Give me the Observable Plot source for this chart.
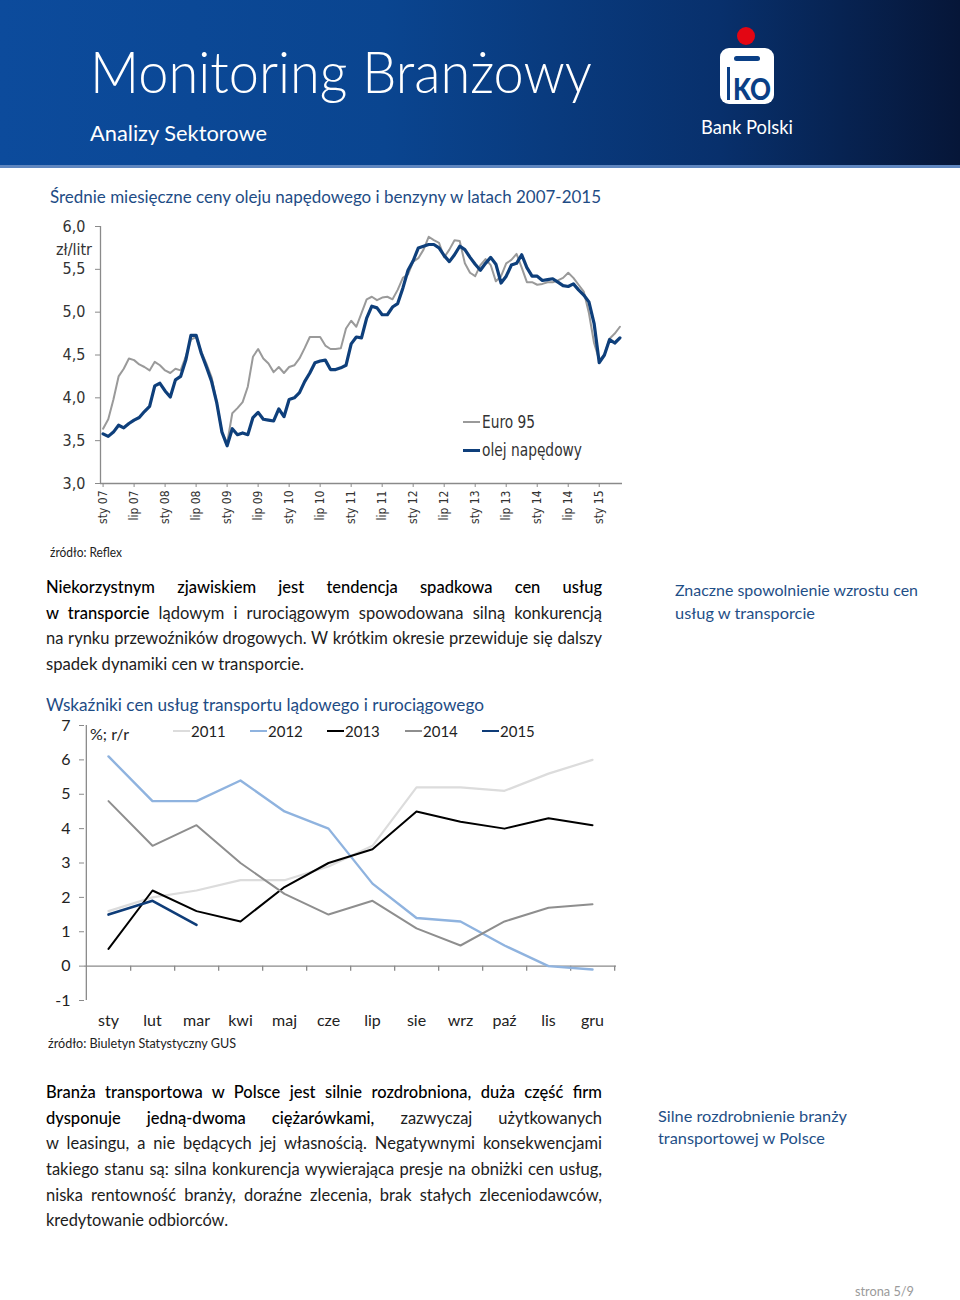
<!DOCTYPE html>
<html><head><meta charset="utf-8">
<script src="https://cdn.jsdelivr.net/npm/d3@7"></script>
<script src="https://cdn.jsdelivr.net/npm/@observablehq/plot@0.6"></script>
<style>
body{margin:0;background:#fff;}
#page{position:relative;width:960px;height:1300px;overflow:hidden;font-family:Lato,"Open Sans",sans-serif;color:#1a1a1a;}
.abs{position:absolute;white-space:nowrap;}
.fit{transform-origin:0 50%;display:inline-block;}
.ttl{color:#1e4c85;font-size:17px;line-height:20px;}
.note{color:#1f4f87;font-size:16px;}
.src{font-size:12.5px;line-height:16px;color:#222;}
.para{position:absolute;left:46px;width:556px;font-size:16.5px;color:#1c1c1c;}
.para div{height:25.7px;line-height:25.7px;white-space:nowrap;text-align:justify;text-align-last:justify;}
.para div.last{text-align:left;text-align-last:left;}
.para b{font-weight:500;color:#000;}
.narrow{font-family:"Liberation Sans Narrow","DejaVu Sans Condensed","Liberation Sans",sans-serif;}
.sw{position:absolute;height:0;}
</style>
</head><body><div id="page">

<svg class="abs" style="left:0;top:0" width="960" height="170">
  <defs><linearGradient id="hg" x1="0" x2="1" y1="0" y2="0">
    <stop offset="0" stop-color="#0c4b9c"/><stop offset="0.4" stop-color="#0a4590"/>
    <stop offset="0.75" stop-color="#08306c"/><stop offset="1" stop-color="#061638"/></linearGradient></defs>
  <rect x="0" y="0" width="960" height="166" fill="url(#hg)"/>
  <rect x="0" y="165" width="960" height="3" fill="#5f86bf"/>
  <text x="90" y="93" fill="#fff" font-family="Lato" font-weight="300" font-size="58" textLength="502" lengthAdjust="spacingAndGlyphs">Monitoring Branżowy</text>
  <text x="90" y="141" fill="#fff" font-family="Lato" font-weight="400" font-size="22" textLength="177" lengthAdjust="spacingAndGlyphs">Analizy Sektorowe</text>
  <circle cx="746" cy="36" r="9" fill="#e30613"/>
  <rect x="720" y="48" width="54" height="56" rx="9" fill="#fff"/>
  <rect x="734" y="56" width="26" height="5" rx="2.5" fill="#0a3f86"/>
  <rect x="727" y="67" width="3" height="33" fill="#0a3f86"/>
  <text x="752" y="100" fill="#0a3f86" font-family="Lato" font-weight="900" font-size="30" text-anchor="middle" textLength="38" lengthAdjust="spacingAndGlyphs">KO</text>
  <text x="701" y="134" fill="#fff" font-family="Lato" font-size="19" textLength="92" lengthAdjust="spacingAndGlyphs">Bank Polski</text>
</svg>

<div class="abs ttl" style="left:50px;top:187px"><span class="fit" data-w="551">Średnie miesięczne ceny oleju napędowego i benzyny w latach 2007-2015</span></div>
<div id="c1" class="abs" style="left:0;top:210px"></div>
<div class="abs narrow" style="left:56px;top:240px;font-size:16px;line-height:20px;color:#333"><span class="fit" data-w="36">zł/litr</span></div>
<div class="sw" style="left:463px;top:421px;width:17px;border-top:2px solid #9a9a9a"></div>
<div class="abs narrow" style="left:482px;top:412px;font-size:17px;line-height:20px;color:#333"><span class="fit" data-w="53">Euro 95</span></div>
<div class="sw" style="left:463px;top:449px;width:17px;border-top:3px solid #0e3f7b"></div>
<div class="abs narrow" style="left:482px;top:440px;font-size:17px;line-height:20px;color:#333"><span class="fit" data-w="100">olej napędowy</span></div>
<div class="abs src" style="left:50px;top:545px"><span class="fit" data-w="72">źródło: Reflex</span></div>

<div class="para" style="top:575px">
<div><b>Niekorzystnym zjawiskiem jest tendencja spadkowa cen usług</b></div>
<div><b>w transporcie</b> lądowym i rurociągowym spowodowana silną konkurencją</div>
<div>na rynku przewoźników drogowych. W krótkim okresie przewiduje się dalszy</div>
<div class="last"><span class="fit" data-w="258">spadek dynamiki cen w transporcie.</span></div>
</div>
<div class="abs note" style="left:675px;top:578px;line-height:23px">
<div><span class="fit" data-w="243">Znaczne spowolnienie wzrostu cen</span></div>
<div><span class="fit" data-w="140">usług w transporcie</span></div>
</div>

<div class="abs ttl" style="left:46px;top:695px"><span class="fit" data-w="438">Wskaźniki cen usług transportu lądowego i rurociągowego</span></div>
<div id="c2" class="abs" style="left:0;top:715px"></div>
<div class="abs" style="left:90px;top:724px;font-size:16px;line-height:20px;color:#222"><span class="fit" data-w="39">%; r/r</span></div>
<div id="leg2"></div>
<div class="abs src" style="left:48px;top:1036px"><span class="fit" data-w="188">źródło: Biuletyn Statystyczny GUS</span></div>

<div class="para" style="top:1080px">
<div><b>Branża transportowa w Polsce jest silnie rozdrobniona, duża część firm</b></div>
<div><b>dysponuje jedną-dwoma ciężarówkami,</b> zazwyczaj użytkowanych</div>
<div>w leasingu, a nie będących jej własnością. Negatywnymi konsekwencjami</div>
<div>takiego stanu są: silna konkurencja wywierająca presje na obniżki cen usług,</div>
<div>niska rentowność branży, doraźne zlecenia, brak stałych zleceniodawców,</div>
<div class="last"><span class="fit" data-w="182">kredytowanie odbiorców.</span></div>
</div>
<div class="abs note" style="left:658px;top:1105px;line-height:22px">
<div><span class="fit" data-w="189">Silne rozdrobnienie branży</span></div>
<div><span class="fit" data-w="167">transportowej w Polsce</span></div>
</div>
<div class="abs" style="left:855px;top:1282px;font-size:13px;line-height:18px;color:#9a9a9a"><span class="fit" data-w="59">strona 5/9</span></div>

</div>
<script>
// ---------- Chart 1 data: monthly average prices, Jan 2007 – May 2015 (zł/litr)
const euro95 = [3.64,3.75,3.98,4.25,4.34,4.46,4.44,4.39,4.36,4.32,
 4.42,4.38,4.32,4.29,4.34,4.32,4.48,4.68,4.71,4.54,
 4.40,4.24,3.94,3.60,3.47,3.82,3.88,3.95,4.13,4.48,
 4.57,4.46,4.40,4.30,4.36,4.29,4.36,4.38,4.46,4.58,
 4.71,4.71,4.71,4.61,4.57,4.57,4.58,4.81,4.90,4.83,
 4.99,5.15,5.18,5.14,5.17,5.18,5.15,5.26,5.40,5.44,
 5.59,5.63,5.73,5.88,5.84,5.81,5.64,5.73,5.84,5.83,
 5.57,5.46,5.42,5.55,5.62,5.55,5.36,5.42,5.57,5.61,
 5.68,5.52,5.35,5.35,5.32,5.33,5.35,5.35,5.37,5.40,
 5.46,5.40,5.32,5.24,4.99,4.64,4.44,4.50,4.69,4.75,
 4.83];
const diesel = [3.58,3.55,3.60,3.68,3.65,3.70,3.74,3.77,3.84,3.90,
 4.14,4.17,4.08,4.01,4.21,4.25,4.44,4.73,4.73,4.52,
 4.36,4.19,3.94,3.60,3.44,3.64,3.57,3.59,3.57,3.77,
 3.83,3.75,3.74,3.73,3.87,3.78,3.98,4.00,4.06,4.19,
 4.29,4.41,4.43,4.44,4.33,4.33,4.35,4.38,4.63,4.71,
 4.70,4.93,5.07,5.05,4.97,4.97,5.06,5.10,5.28,5.49,
 5.60,5.75,5.77,5.79,5.79,5.75,5.66,5.59,5.67,5.77,
 5.73,5.64,5.56,5.49,5.57,5.64,5.56,5.34,5.42,5.55,
 5.57,5.67,5.52,5.42,5.42,5.37,5.38,5.39,5.35,5.31,
 5.30,5.33,5.26,5.20,5.12,4.87,4.41,4.50,4.68,4.64,
 4.70];
const xLabels1 = ["sty 07","lip 07","sty 08","lip 08","sty 09","lip 09","sty 10","lip 10",
 "sty 11","lip 11","sty 12","lip 12","sty 13","lip 13","sty 14","lip 14","sty 15"];
const yTicks1 = [3.0,3.5,4.0,4.5,5.0,5.5,6.0];

// ---------- Chart 2 data: y/y % change by month
const months2 = ["sty","lut","mar","kwi","maj","cze","lip","sie","wrz","paź","lis","gru"];
const y2011 = [1.6,2.0,2.2,2.5,2.5,2.9,3.5,5.2,5.2,5.1,5.6,6.0];
const y2012 = [6.1,4.8,4.8,5.4,4.5,4.0,2.4,1.4,1.3,0.6,0.0,-0.1];
const y2013 = [0.5,2.2,1.6,1.3,2.3,3.0,3.4,4.5,4.2,4.0,4.3,4.1];
const y2014 = [4.8,3.5,4.1,3.0,2.1,1.5,1.9,1.1,0.6,1.3,1.7,1.8];
const y2015 = [1.5,1.9,1.2];
const yTicks2 = [-1,0,1,2,3,4,5,6,7];
const series2 = [
  {name:"2011", values:y2011, color:"#dcdcdc", width:2.2},
  {name:"2012", values:y2012, color:"#8fb3df", width:2.4},
  {name:"2013", values:y2013, color:"#000000", width:2},
  {name:"2014", values:y2014, color:"#8e8e8e", width:2},
  {name:"2015", values:y2015, color:"#0e3c78", width:2.6}
];

const narrow = "'Liberation Sans Narrow','DejaVu Sans Condensed','Liberation Sans',sans-serif";
const axisGray = "#8a8a8a";
const fmt1 = d => d.toFixed(1).replace(".", ",");

const rowsE = euro95.map((v,i)=>({i, v}));
const rowsD = diesel.map((v,i)=>({i, v}));
const tickIdx = xLabels1.map((_,k)=>k*6);

const chart1 = Plot.plot({
  width: 640, height: 323,
  marginLeft: 100, marginRight: 18, marginTop: 16, marginBottom: 50,
  style: {fontFamily: narrow, fontSize: "12px", color: "#333", background: "transparent", overflow: "visible"},
  x: {domain: [-0.5, euro95.length - 0.5], label: null},
  y: {domain: [3, 6], label: null},
  marks: [
    Plot.axisY({ticks: yTicks1, tickFormat: fmt1, tickSize: 5, tickPadding: 10, fontSize: 16, stroke: axisGray, fill: "#333", label: null}),
    Plot.axisX({ticks: tickIdx, tickFormat: d => xLabels1[d/6], tickRotate: -90, tickSize: 4, tickPadding: 3, fontSize: 12, stroke: axisGray, fill: "#333", label: null}),
    Plot.ruleX([-0.5], {stroke: axisGray, strokeWidth: 1.3}),
    Plot.ruleY([3], {stroke: axisGray, strokeWidth: 1.3}),
    Plot.line(rowsE, {x: "i", y: "v", stroke: "#9a9a9a", strokeWidth: 2}),
    Plot.line(rowsD, {x: "i", y: "v", stroke: "#0e3f7b", strokeWidth: 3.2})
  ]
});
document.getElementById("c1").append(chart1);

// ---------- Chart 2
const rows2 = series2.flatMap(s => s.values.map((v,k)=>({m: months2[k], v, s: s.name})));
const W2 = 640, ML2 = 84, MR2 = 24;
const step2 = (W2 - ML2 - MR2) / months2.length;
const chart2 = Plot.plot({
  width: W2, height: 320,
  marginLeft: ML2, marginRight: MR2, marginTop: 10, marginBottom: 35,
  style: {fontFamily: "Lato, sans-serif", fontSize: "16px", color: "#222", background: "transparent", overflow: "visible"},
  x: {type: "point", domain: months2, padding: 0.5, axis: null, label: null},
  y: {domain: [-1, 7], axis: null, label: null},
  marks: [
    Plot.axisY({ticks: yTicks2, tickFormat: d => String(d), tickSize: 5, tickPadding: 9, fontSize: 16, stroke: axisGray, fill: "#222", label: null}),
    Plot.ruleX([months2[0]], {y1: -1, y2: 7, dx: -step2/2, stroke: axisGray, strokeWidth: 1.3}),
    Plot.ruleY([0], {stroke: axisGray, strokeWidth: 1.3}),
    Plot.ruleX(months2, {x: d => d, y1: 0, y2: -0.15, dx: step2/2, stroke: axisGray, strokeWidth: 1.3}),
    Plot.text(months2, {x: d => d, y: -1, dy: 20, fontSize: 16, fill: "#222"}),
    ...series2.map(s => Plot.line(rows2.filter(r => r.s === s.name), {x: "m", y: "v", stroke: s.color, strokeWidth: s.width}))
  ]
});
document.getElementById("c2").append(chart2);

// legend chart 2
const legPos = [173, 250, 327, 405, 482];
const leg = document.getElementById("leg2");
series2.forEach((s,k) => {
  const sw = document.createElement("div");
  sw.className = "sw";
  sw.style.cssText = `left:${legPos[k]}px;top:${731 - s.width/2}px;width:17px;border-top:${s.width}px solid ${s.color}`;
  leg.append(sw);
  const t = document.createElement("div");
  t.className = "abs";
  t.style.cssText = `left:${legPos[k]+18}px;top:721px;font-size:15px;line-height:20px;color:#222`;
  t.textContent = s.name;
  leg.append(t);
});

// fit single-line texts to measured widths
document.querySelectorAll(".fit").forEach(el => {
  const w = +el.dataset.w, r = el.getBoundingClientRect().width;
  if (r > 0) el.style.transform = `scaleX(${w/r})`;
});
</script>
</body></html>
